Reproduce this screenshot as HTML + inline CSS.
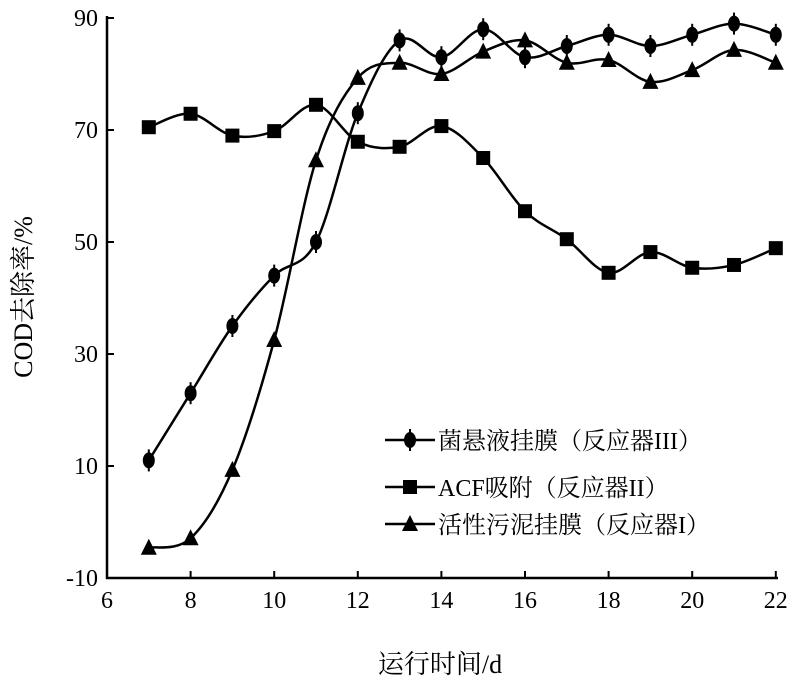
<!DOCTYPE html>
<html><head><meta charset="utf-8"><style>
body{margin:0;background:#fff}
svg text{font-family:"Liberation Serif","Noto Serif CJK SC",serif;fill:#000}
</style></head><body>
<svg id="s" width="800" height="687" xmlns="http://www.w3.org/2000/svg">
<g stroke="#000" stroke-width="2.5" fill="none">
<line x1="107" y1="16" x2="107" y2="579"/>
<line x1="106" y1="578" x2="778" y2="578"/>
</g>
<g id="ticks" stroke="#000" stroke-width="2"></g>
<g font-size="24" text-anchor="end">
<text x="98" y="26">90</text>
<text x="98" y="138">70</text>
<text x="98" y="250">50</text>
<text x="98" y="362">30</text>
<text x="98" y="474">10</text>
<text x="98" y="586">-10</text>
</g>
<g id="xl" font-size="24" text-anchor="middle"></g>
<text x="440" y="673" font-size="26" text-anchor="middle">运行时间/d</text>
<text transform="translate(32,297) rotate(-90)" font-size="26" text-anchor="middle">COD去除率/%</text>
<g id="series"></g>
<g font-size="24">
<line x1="385" y1="440" x2="435" y2="440" stroke="#000" stroke-width="2.5"/>
<ellipse cx="410" cy="440" rx="6" ry="8"/><line x1="410" y1="429" x2="410" y2="451" stroke="#000" stroke-width="2"/>
<text x="438" y="449">菌悬液挂膜（反应器III）</text>
<line x1="385" y1="487" x2="435" y2="487" stroke="#000" stroke-width="2.5"/>
<rect x="403" y="480" width="14" height="14"/>
<text x="438" y="496">ACF吸附（反应器II）</text>
<line x1="385" y1="524" x2="435" y2="524" stroke="#000" stroke-width="2.5"/>
<polygon points="410,515 402,531 418,531"/>
<text x="438" y="533">活性污泥挂膜（反应器I）</text>
</g>
</svg>
<script>
var NS="http://www.w3.org/2000/svg";
function X(d){return 107+(d-6)*41.8}
function Y(v){return 18+(90-v)*5.6}
function el(t,a,p){var e=document.createElementNS(NS,t);for(var k in a)e.setAttribute(k,a[k]);p.appendChild(e);return e}
var tk=document.getElementById("ticks"),xl=document.getElementById("xl");
for(var d=6;d<=22;d+=2){el("line",{x1:X(d),y1:578,x2:X(d),y2:571},tk);var t=el("text",{x:X(d),y:608},xl);t.textContent=d;}
[90,70,50,30,10].forEach(function(v){el("line",{x1:107,y1:Y(v),x2:114,y2:Y(v)},tk)});
var S=[
[[11,23,35,44,50,73,86,83,88,83,85,87,85,87,89,87],"c"],
[[70.5,72.9,69,69.8,74.5,67.9,67,70.7,65,55.5,50.5,44.5,48.2,45.4,45.9,48.9],"s"],
[[-4.6,-2.9,9.3,32.5,64.6,79.3,82,80,84,86,82,82.5,78.6,80.7,84.3,82],"t"]];
var g=document.getElementById("series");
S.forEach(function(s){
 var p=s[0].map(function(v,i){return [X(7+i),Y(v)]});
 var d="M"+p[0];
 for(var i=0;i<p.length-1;i++){
  var a=p[Math.max(i-1,0)],b=p[i],c=p[i+1],e=p[Math.min(i+2,p.length-1)];
  d+=" C"+(b[0]+(c[0]-a[0])/6)+","+(b[1]+(c[1]-a[1])/6)+" "+(c[0]-(e[0]-b[0])/6)+","+(c[1]-(e[1]-b[1])/6)+" "+c[0]+","+c[1];
 }
 el("path",{d:d,fill:"none",stroke:"#000","stroke-width":2.5},g);
 p.forEach(function(q){
  if(s[1]=="c"){el("ellipse",{cx:q[0],cy:q[1],rx:6,ry:8},g);el("line",{x1:q[0],y1:q[1]-11,x2:q[0],y2:q[1]+11,stroke:"#000","stroke-width":2},g);}
  else if(s[1]=="s")el("rect",{x:q[0]-7,y:q[1]-7,width:14,height:14},g);
  else el("polygon",{points:q[0]+","+(q[1]-9)+" "+(q[0]-8)+","+(q[1]+7)+" "+(q[0]+8)+","+(q[1]+7)},g);
 });
});
</script>
</body></html>
